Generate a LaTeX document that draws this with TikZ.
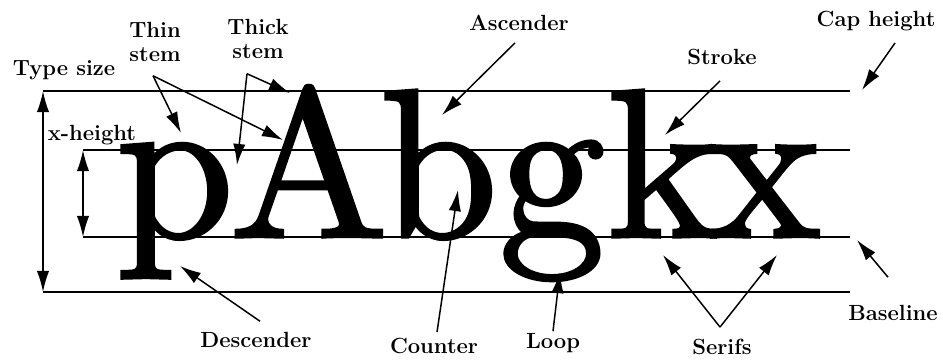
\documentclass[tikz,border=0pt]{standalone}
\usepackage{fontspec}
\newfontfamily\glyphfont{lmroman10-regular.otf}[FakeBold=1.6]
\usetikzlibrary{arrows.meta}

\begin{document}
\begin{tikzpicture}[
  x=0.02cm, y=-0.02cm,
  lbl/.style={font=\fontsize{12.5}{13.6}\selectfont\bfseries, inner sep=1pt, align=center},
  glyph/.style={font=\glyphfont\fontsize{120.5}{120.5}\selectfont, inner sep=0pt, anchor=base},
  guide/.style={line width=1.1pt},
  arr/.style={-{Latex[length=12pt,width=7pt]}, line width=0.85pt},
  dim/.style={{Latex[length=12pt,width=7pt]}-{Latex[length=12pt,width=7pt]}, line width=0.85pt},
]
\useasboundingbox (0,0) rectangle (943,360);

% Guide lines
\coordinate (capL)  at (43,91);   \coordinate (capR)  at (850,91);
\coordinate (xhL)   at (83,150);  \coordinate (xhR)   at (850,150);
\coordinate (baseL) at (83,237);  \coordinate (baseR) at (850,237);
\coordinate (descL) at (43,292);  \coordinate (descR) at (850,292);
\draw[guide] (capL) -- (capR);
\draw[guide] (xhL) -- (xhR);
\draw[guide] (baseL) -- (baseR);
\draw[guide] (descL) -- (descR);

% Sizes
\draw[dim] (capL) -- (descL);
\draw[dim] (xhL) -- (baseL);

% Sample letters
\node[glyph] (p) at (175,237) {p};
\node[glyph] (A) at (309,237) {A};
\node[glyph] (b) at (439,237) {b};
\node[glyph] (g) at (552,237) {g};
\node[glyph] (k) at (663,237) {k};
\node[glyph] (x) at (765,237) {x};

% Labels
\node[lbl] (typesize)  at (64,70)   {Type size};
\node[lbl] (xheight)   at (92,135)  {x-height};
\node[lbl] (thin)      at (155,42)  {Thin\\stem};
\node[lbl] (thick)     at (258,39)  {Thick\\stem};
\node[lbl] (ascender)  at (519,23)  {Ascender};
\node[lbl] (stroke)    at (722,57)  {Stroke};
\node[lbl] (capheight) at (876,21)  {Cap height};
\node[lbl] (descender) at (256,340) {Descender};
\node[lbl] (counter)   at (434,346) {Counter};
\node[lbl] (loop)      at (553,343) {Loop};
\node[lbl] (serifs)    at (722,347) {Serifs};
\node[lbl] (baseline)  at (893,313) {Baseline};

% Arrow tips
\coordinate (thinP)    at (181,133);
\coordinate (thinA)    at (283,140);
\coordinate (thickP)   at (237,165);
\coordinate (thickA)   at (290,93);
\coordinate (ascB)     at (442,115);
\coordinate (strokeK)  at (665,135);
\coordinate (capEnd)   at (862,90);
\coordinate (descP)    at (180,266);
\coordinate (counterB) at (458,190);
\coordinate (loopG)    at (560,272);
\coordinate (serifK)   at (663,255);
\coordinate (serifX)   at (777,255);
\coordinate (baseEnd)  at (857,240);

% Arrows
\draw[arr] ([shift={(-2,12)}]thin.south) -- (thinP);
\draw[arr] ([shift={(-2,12)}]thin.south) -- (thinA);
\draw[arr] ([shift={(-11,13)}]thick.south) -- (thickP);
\draw[arr] ([shift={(-11,13)}]thick.south) -- (thickA);
\draw[arr] ([shift={(-4,10)}]ascender.south) -- (ascB);
\draw[arr] ([shift={(-2,14)}]stroke.south) -- (strokeK);
\draw[arr] ([shift={(19,10)}]capheight.south) -- (capEnd);
\draw[arr] ([shift={(4,-9)}]descender.north) -- (descP);
\draw[arr] ([shift={(3,-4)}]counter.north) -- (counterB);
\draw[arr] (loop.north) -- (loopG);
\draw[arr] ([shift={(-2,-10)}]serifs.north) -- (serifK);
\draw[arr] ([shift={(-2,-10)}]serifs.north) -- (serifX);
\draw[arr] ([shift={(-5,-26)}]baseline.north) -- (baseEnd);

\end{tikzpicture}
\end{document}
